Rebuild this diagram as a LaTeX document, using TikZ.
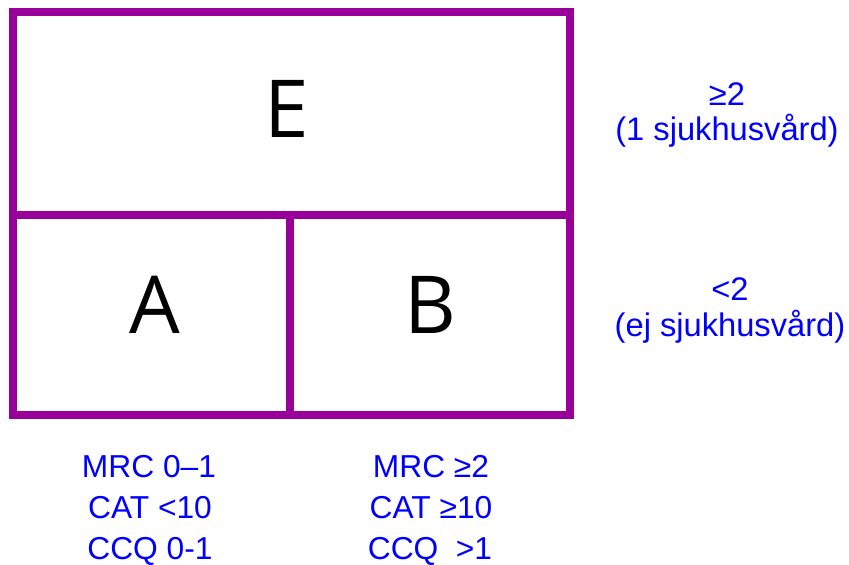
\documentclass[tikz,border=0pt]{standalone}
\usepackage{fontspec}
\setmainfont{Liberation Sans}
\newfontfamily\bigfont{Open Sans}
\definecolor{boxpurple}{HTML}{990099}
\definecolor{txtblue}{HTML}{0000FF}
\begin{document}
\begin{tikzpicture}[x=0.75pt,y=-0.75pt,
  frame/.style={draw=boxpurple,line width=6pt},
  bigletter/.style={anchor=base,inner sep=0pt,font=\bigfont\fontsize{60pt}{60pt}\selectfont},
  bluetxt/.style={anchor=base,inner sep=0pt,text=txtblue,font=\fontsize{23.8pt}{24pt}\selectfont},
  bluetxtr/.style={bluetxt,font=\fontsize{24.5pt}{25pt}\selectfont}]
\useasboundingbox (0,0) rectangle (849,564);
\coordinate (tl) at (12.5,11.5);
\coordinate (br) at (570,415);
\coordinate (ml) at (12.5,214.7);
\coordinate (mr) at (570,214.7);
\coordinate (mt) at (290,214.7);
\coordinate (mb) at (290,415);
\draw[frame] (tl) rectangle (br);
\draw[frame] (ml) -- (mr);
\draw[frame] (mt) -- (mb);
\node[bigletter] (E) at (287,137) {E};
\node[bigletter] (A) at (155,333) {A};
\node[bigletter] (B) at (430,333) {B};
\node[bluetxtr] (r1) at (727,105) {≥2};
\node[bluetxtr] (r2) at (727,140) {(1 sjukhusvård)};
\node[bluetxtr] (r3) at (730,300) {<2};
\node[bluetxtr] (r4) at (730,336) {(ej sjukhusvård)};
\node[bluetxt] (l1) at (149,477) {MRC 0–1};
\node[bluetxt] (l2) at (150,518) {CAT <10};
\node[bluetxt] (l3) at (150,559) {CCQ 0-1};
\node[bluetxt] (c1) at (431,477) {MRC ≥2};
\node[bluetxt] (c2) at (431,518) {CAT ≥10};
\node[bluetxt] (c3) at (430,559) {CCQ\ \ >1};
\end{tikzpicture}
\end{document}
